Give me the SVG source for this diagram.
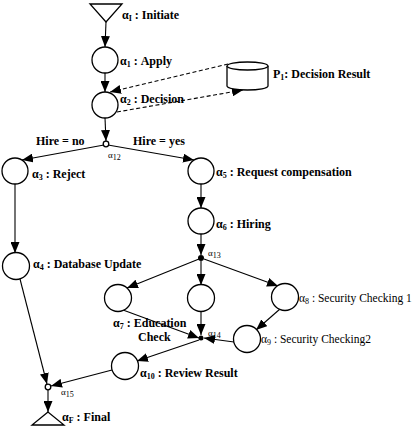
<svg xmlns="http://www.w3.org/2000/svg" width="417" height="428" viewBox="0 0 417 428">
<style>
.n{fill:#fff;stroke:#000;stroke-width:1.3}
.c{stroke:#000;stroke-width:1.1;fill:none;marker-end:url(#ah)}
.d{stroke-dasharray:4,2.5}
text{font-family:"Liberation Serif","Times New Roman",serif;font-size:12px;font-weight:bold;fill:#000}
.r{font-weight:normal;font-size:11.5px}
.s{font-size:8px}
.j{font-size:9px;font-weight:normal}
</style>
<defs>
<marker id="ah" markerUnits="userSpaceOnUse" markerWidth="11" markerHeight="9" refX="11" refY="4.5" orient="auto">
<path d="M0,0 L11,4.5 L0,9 z" fill="#000"/>
</marker>
</defs>
<rect width="417" height="428" fill="#fff"/>
<g id="connectors">
<line class="c" x1="106" y1="22" x2="105" y2="47"/>
<line class="c" x1="105" y1="73" x2="105" y2="92"/>
<line class="c d" x1="228" y1="64" x2="110" y2="92"/>
<line class="c d" x1="117" y1="112" x2="243" y2="90"/>
<line class="c" x1="105" y1="118" x2="106" y2="141"/>
<line class="c" x1="104" y1="145" x2="22" y2="160"/>
<line class="c" x1="108" y1="145" x2="194" y2="160"/>
<line class="c" x1="15" y1="184" x2="15" y2="253"/>
<line class="c" x1="201" y1="184" x2="201" y2="208"/>
<line class="c" x1="201" y1="234" x2="201" y2="255"/>
<line class="c" x1="199" y1="259" x2="127" y2="288"/>
<line class="c" x1="201" y1="261" x2="201" y2="285"/>
<line class="c" x1="204" y1="259" x2="278" y2="286"/>
<line class="c" x1="280" y1="309" x2="256" y2="330"/>
<line class="c" x1="201" y1="311" x2="201" y2="335"/>
<line class="c" x1="123" y1="310" x2="199" y2="338"/>
<line class="c" x1="234" y1="342" x2="204" y2="338"/>
<line class="c" x1="199" y1="340" x2="137" y2="361"/>
<line class="c" x1="20" y1="279" x2="47" y2="384"/>
<line class="c" x1="112" y1="370" x2="51" y2="386"/>
<line class="c" x1="48" y1="390" x2="48" y2="412"/>
</g>
<g id="initiate">
<polygon class="n" points="90,4 122,4 106,22"/>
<text x="122" y="19">α<tspan class="s" dy="2">I</tspan><tspan dy="-2"> : Initiate</tspan></text>
</g>
<g id="apply">
<circle class="n" cx="105" cy="60" r="13"/>
<text x="120" y="65">α<tspan class="s" dy="2">1</tspan><tspan dy="-2"> : Apply</tspan></text>
</g>
<g id="decision">
<circle class="n" cx="105" cy="105" r="13"/>
<text x="120" y="103">α<tspan class="s" dy="2">2</tspan><tspan dy="-2"> : Decision</tspan></text>
</g>
<g id="decision-result">
<path class="n" d="M227,66 L227,86 A20.5,4 0 0 0 268,86 L268,66"/>
<ellipse class="n" cx="247.5" cy="66" rx="20.5" ry="4"/>
<text x="273" y="78">P<tspan class="s" dy="2">1</tspan><tspan dy="-2">: Decision Result</tspan></text>
</g>
<g id="a12">
<circle class="n" cx="106" cy="144" r="2.8"/>
<text x="36" y="145">Hire = no</text>
<text x="133" y="145">Hire = yes</text>
<text class="j" x="108" y="158">α<tspan class="s" dy="2">12</tspan></text>
</g>
<g id="reject">
<circle class="n" cx="15" cy="171" r="13"/>
<text x="32" y="178">α<tspan class="s" dy="2">3</tspan><tspan dy="-2"> : Reject</tspan></text>
</g>
<g id="request-compensation">
<circle class="n" cx="201" cy="171" r="13"/>
<text x="216" y="176">α<tspan class="s" dy="2">5</tspan><tspan dy="-2"> : Request compensation</tspan></text>
</g>
<g id="hiring">
<circle class="n" cx="201" cy="221" r="13"/>
<text x="216" y="228">α<tspan class="s" dy="2">6</tspan><tspan dy="-2"> : Hiring</tspan></text>
</g>
<g id="a13">
<circle cx="201" cy="258" r="3" fill="#000"/>
<text class="j" x="208" y="256">α<tspan class="s" dy="2">13</tspan></text>
</g>
<g id="database-update">
<circle class="n" cx="16" cy="266" r="13.5"/>
<text x="33" y="268">α<tspan class="s" dy="2">4</tspan><tspan dy="-2"> : Database Update</tspan></text>
</g>
<g id="education-check">
<circle class="n" cx="118" cy="298" r="13.5"/>
<text x="113" y="327">α<tspan class="s" dy="2">7</tspan><tspan dy="-2"> :  Education</tspan></text>
<text x="138" y="341">Check</text>
</g>
<g id="middle">
<circle class="n" cx="201" cy="298" r="13.5"/>
</g>
<g id="security-checking-1">
<circle class="n" cx="285" cy="297" r="13.5"/>
<text class="r" x="299" y="302">α<tspan class="s" dy="2">8</tspan><tspan dy="-2"> : Security Checking 1</tspan></text>
</g>
<g id="security-checking-2">
<circle class="n" cx="247" cy="339" r="13.5"/>
<text class="r" x="261" y="343">α<tspan class="s" dy="2">9</tspan><tspan dy="-2"> : Security Checking2</tspan></text>
</g>
<g id="a14">
<circle cx="201" cy="338" r="2.5" fill="#000"/>
<text class="j" x="208" y="336">α<tspan class="s" dy="2">14</tspan></text>
</g>
<g id="review-result">
<circle class="n" cx="125" cy="366" r="13.5"/>
<text x="140" y="377">α<tspan class="s" dy="2">10</tspan><tspan dy="-2"> : Review Result</tspan></text>
</g>
<g id="a15">
<circle class="n" cx="48" cy="387" r="2.8"/>
<text class="j" x="61" y="395">α<tspan class="s" dy="2">15</tspan></text>
</g>
<g id="final">
<polygon class="n" points="48,412 32,425 64,425"/>
<text x="62" y="421">α<tspan class="s" dy="2">F</tspan><tspan dy="-2"> : Final</tspan></text>
</g>
</svg>
